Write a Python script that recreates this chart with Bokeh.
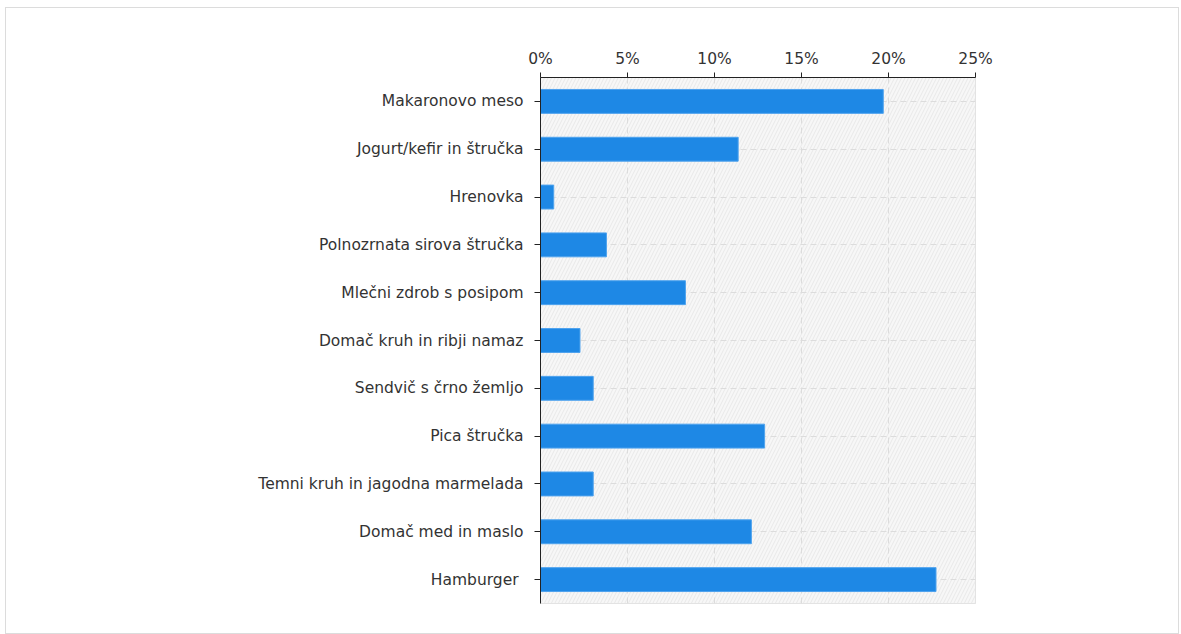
from bokeh.plotting import figure
from bokeh.models import FactorRange, Range1d, PrintfTickFormatter, BoxAnnotation, FixedTicker
from bokeh.embed import file_html
from bokeh.resources import INLINE

categories = [
    "Makaronovo meso",
    "Jogurt/kefir in štručka",
    "Hrenovka",
    "Polnozrnata sirova štručka",
    "Mlečni zdrob s posipom",
    "Domač kruh in ribji namaz",
    "Sendvič s črno žemljo",
    "Pica štručka",
    "Temni kruh in jagodna marmelada",
    "Domač med in maslo",
    "Hamburger ",
]
values = [19.70, 11.36, 0.76, 3.79, 8.33, 2.27, 3.03, 12.88, 3.03, 12.12, 22.73]
x_ticks = [0, 5, 10, 15, 20, 25]

FONT = "DejaVu Sans"
TXT = "#333333"

p = figure(
    width=1174, height=627,
    y_range=FactorRange(*reversed(categories), range_padding=0),
    x_range=Range1d(0, 25),
    x_axis_location="above",
    output_backend="svg", toolbar_location=None,
    min_border_left=534, min_border_top=69, min_border_right=205, min_border_bottom=32,
)
p.styles = {"border": "1px solid #dcdcdc", "margin-left": "5px", "margin-top": "7px"}

bg = BoxAnnotation(fill_color="#f7f7f7", fill_alpha=1.0, line_alpha=0,
                   hatch_pattern="right_diagonal_line", hatch_color="#e3e3e3",
                   hatch_scale=7, hatch_weight=0.7, level="image")
p.add_layout(bg)

p.hbar(y=categories, right=values, left=0, height=0.5,
       fill_color="#1e88e5", line_color="#4fa3ee", line_width=1)

p.outline_line_color = "#dddddd"
p.background_fill_color = "white"

for g in (p.xgrid[0], p.ygrid[0]):
    g.grid_line_color = "#dcdcdc"
    g.grid_line_dash = "6 4"
    g.grid_line_width = 1

xa = p.xaxis[0]
xa.ticker = FixedTicker(ticks=x_ticks)
xa.formatter = PrintfTickFormatter(format="%d%%")
xa.major_label_text_font = FONT
xa.major_label_text_font_size = "15.5px"
xa.major_label_text_color = TXT
xa.axis_line_color = "#222222"
xa.major_tick_line_color = "#222222"
xa.major_tick_out = 5
xa.major_tick_in = 0
xa.minor_tick_line_color = None
xa.major_label_standoff = 5

ya = p.yaxis[0]
ya.major_label_text_font = FONT
ya.major_label_text_font_size = "15.5px"
ya.major_label_text_color = TXT
ya.axis_line_color = "#222222"
ya.major_tick_line_color = "#222222"
ya.major_tick_out = 6
ya.major_tick_in = 0
ya.major_label_standoff = 11

open("out.html", "w").write(file_html(p, INLINE))
